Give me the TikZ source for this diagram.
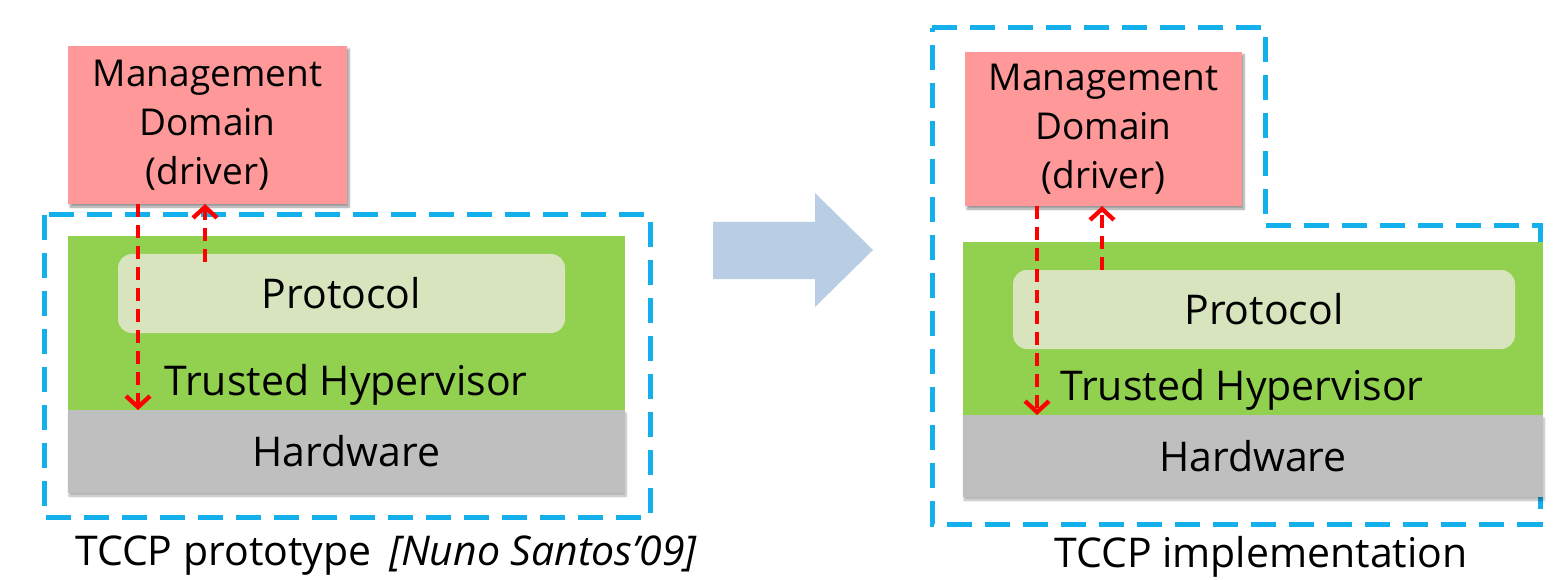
\documentclass[tikz,border=0pt]{standalone}
\usepackage{fontspec}
\setmainfont{Open Sans}
\usetikzlibrary{arrows.meta,shadows.blur,calc}

\definecolor{mgmtpink}{HTML}{FF9999}
\definecolor{hypgreen}{HTML}{92D050}
\definecolor{protgreen}{HTML}{D7E4BD}
\definecolor{hwgray}{HTML}{BFBFBF}
\definecolor{zoneblue}{HTML}{14B0EC}
\definecolor{bigarrow}{HTML}{B9CDE5}
\definecolor{flowred}{HTML}{FF0000}

\tikzset{
  box/.style={inner sep=0pt, outer sep=0pt, anchor=north west, align=center,
    font=\fontsize{41}{50}\selectfont},
  mgmt/.style={box, fill=mgmtpink, font=\fontsize{37}{49}\selectfont,
    blur shadow={shadow xshift=2pt, shadow yshift=-3pt, shadow blur steps=6, shadow opacity=40}},
  hyp/.style={box, fill=hypgreen},
  prot/.style={box, fill=protgreen, rounded corners=14pt},
  hw/.style={box, fill=hwgray,
    blur shadow={shadow xshift=1pt, shadow yshift=-3pt, shadow blur steps=6, shadow opacity=30}},
  lbl/.style={inner sep=0pt, anchor=base, font=\fontsize{41}{48}\selectfont},
  zone/.style={draw=zoneblue, line width=5pt, dash pattern=on 25pt off 13pt},
  flow/.style={draw=flowred, line width=4.3pt, dash pattern=on 13pt off 8pt,
    -{Straight Barb[length=11pt, width=24pt, line width=4.3pt]}},
  caption/.style={inner sep=0pt, anchor=base west, font=\fontsize{41}{48}\selectfont},
}

\begin{document}
\begin{tikzpicture}[x=1pt, y=-1pt]
\useasboundingbox (0,0) rectangle (1561,580);

% ---------- left: prototype ----------
\draw[zone] (44,215) rectangle (650,517);
\node[hyp, minimum width=557pt, minimum height=174pt] (hypL) at (68,236) {};
\node[hw, minimum width=557pt, minimum height=83pt] (hwL) at (68,410) {Hardware};
\node[prot, minimum width=447pt, minimum height=79pt] (protL) at (118,254) {Protocol};
\node[lbl] (thL) at (346,395) {Trusted Hypervisor};
\node[mgmt, minimum width=279pt, minimum height=158pt] (mgmtL) at (68,46)
  {Management\\Domain\\(driver)};

\draw[flow] ([xshift=-69.5pt]mgmtL.south) -- ([xshift=-69.5pt]mgmtL.south |- hwL.north);
\draw[flow] ($([xshift=-2.5pt]mgmtL.south |- protL.north)+(0,8)$) -- ([xshift=-2.5pt]mgmtL.south);

\node[caption] (capL) at (75,565) {TCCP prototype \,\textit{[Nuno Santos’09]}};

% ---------- transition arrow ----------
\fill[bigarrow] (713,222) -- (815,222) -- (815,193) -- (873,250)
  -- (815,307) -- (815,279) -- (713,279) -- cycle;

% ---------- right: implementation ----------
\draw[zone] (932,28) -| (1265,226) -| (1540,524) -| cycle;
\node[hyp, minimum width=580pt, minimum height=173pt] (hypR) at (963,242) {};
\node[hw, minimum width=580pt, minimum height=82pt] (hwR) at (963,415) {Hardware};
\node[prot, minimum width=502pt, minimum height=79pt] (protR) at (1013,270) {Protocol};
\node[lbl] (thR) at (1242,400) {Trusted Hypervisor};
\node[mgmt, minimum width=277pt, minimum height=154pt] (mgmtR) at (965,52)
  {Management\\Domain\\(driver)};

\draw[flow] ([xshift=-66.5pt]mgmtR.south) -- ([xshift=-66.5pt]mgmtR.south |- hwR.north);
\draw[flow] ([xshift=-1.5pt]mgmtR.south |- protR.north) -- ([xshift=-1.5pt]mgmtR.south);

\node[caption, anchor=base] (capR) at (1261,567) {TCCP implementation};
\end{tikzpicture}
\end{document}
